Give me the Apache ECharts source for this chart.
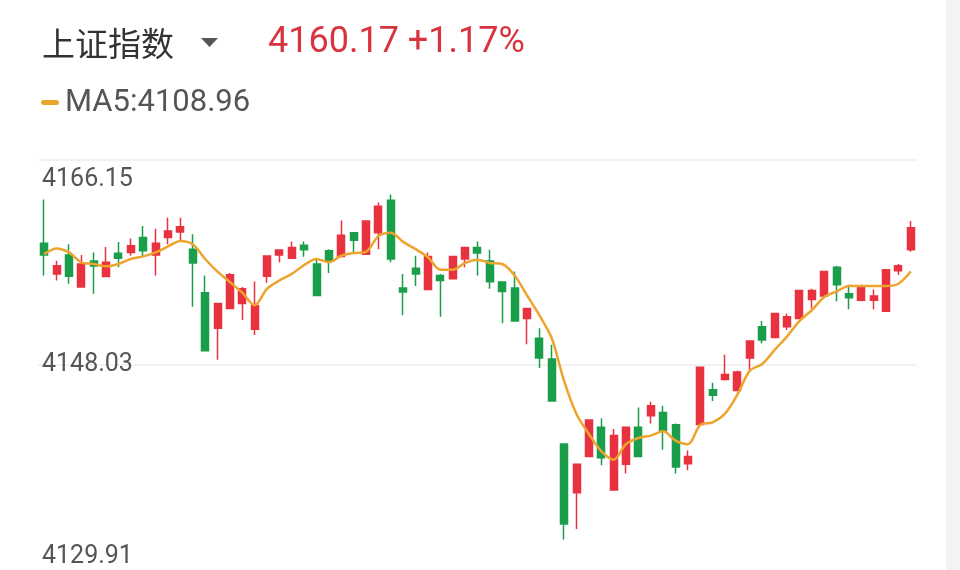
<!DOCTYPE html>
<html>
<head>
<meta charset="utf-8">
<script src="https://cdn.jsdelivr.net/npm/echarts@6/dist/echarts.min.js"></script>
<style>
html,body{margin:0;padding:0;background:#fff;}
#c{width:960px;height:570px;}
</style>
</head>
<body>
<div id="c"></div>
<script>
var categories = ['1','2','3','4','5','6','7','8','9','10','11','12','13','14','15','16','17','18','19','20','21','22','23','24','25','26','27','28','29','30','31','32','33','34','35','36','37','38','39','40','41','42','43','44','45','46','47','48','49','50','51','52','53','54','55','56','57','58','59','60','61','62','63','64','65','66','67','68','69','70','71'];
var openVals = [4158.80,4156.08,4157.75,4154.92,4157.22,4155.85,4157.90,4157.98,4159.30,4157.75,4159.30,4159.79,4158.27,4154.42,4151.27,4153.02,4153.46,4151.18,4155.88,4157.75,4157.46,4158.62,4156.96,4158.12,4157.63,4159.73,4157.83,4159.73,4162.59,4154.83,4156.58,4154.71,4155.94,4155.65,4157.40,4158.42,4157.22,4155.36,4154.83,4152.15,4150.39,4148.56,4141.05,4136.74,4139.95,4142.52,4136.98,4139.25,4142.52,4143.54,4143.83,4142.75,4139.31,4142.78,4145.84,4146.74,4145.78,4148.64,4151.42,4150.46,4151.42,4152.15,4153.83,4154.13,4156.67,4154.33,4153.75,4153.75,4152.78,4156.37,4158.21];
var closeVals = [4157.75,4156.81,4155.88,4156.96,4156.78,4157.11,4157.46,4158.56,4158.12,4158.80,4159.87,4160.26,4157.05,4149.28,4153.46,4156.00,4154.77,4153.28,4157.66,4158.19,4158.42,4158.21,4154.18,4157.25,4159.50,4159.06,4160.75,4162.06,4157.40,4154.48,4156.08,4157.63,4155.50,4157.63,4158.42,4157.92,4155.38,4154.53,4151.91,4153.02,4148.64,4144.85,4133.97,4139.25,4143.16,4139.83,4141.79,4142.52,4139.95,4144.42,4142.23,4139.02,4139.95,4147.83,4145.36,4147.18,4147.42,4150.16,4150.25,4152.58,4152.29,4154.62,4154.62,4156.29,4155.12,4153.98,4155.01,4154.13,4156.46,4156.81,4160.17];
var lowVals = [4155.94,4155.50,4155.21,4154.92,4154.33,4155.85,4156.67,4157.69,4157.55,4155.94,4158.71,4159.00,4153.17,4149.23,4148.50,4152.96,4152.00,4150.68,4155.30,4157.11,4157.46,4157.60,4154.18,4156.17,4157.63,4157.98,4157.83,4158.27,4157.11,4152.43,4155.01,4154.71,4152.29,4155.65,4156.67,4155.94,4154.77,4151.71,4151.91,4149.87,4147.77,4144.79,4132.60,4133.53,4139.95,4139.16,4136.98,4138.43,4139.95,4142.87,4140.53,4138.43,4138.73,4142.78,4144.84,4146.66,4145.78,4147.62,4149.96,4150.46,4151.12,4152.15,4153.02,4153.90,4153.66,4152.96,4153.66,4152.96,4152.78,4155.99,4158.04];
var highVals = [4162.65,4157.25,4158.71,4157.75,4157.98,4158.47,4158.91,4159.21,4160.31,4160.08,4161.05,4161.05,4159.59,4155.94,4153.46,4156.17,4154.92,4155.41,4157.66,4158.27,4158.95,4158.95,4157.46,4158.27,4160.81,4159.73,4160.75,4162.41,4163.09,4156.08,4157.69,4157.98,4156.08,4157.63,4158.42,4158.95,4158.21,4155.36,4156.29,4153.02,4151.27,4149.81,4141.05,4139.25,4143.16,4143.33,4142.37,4142.52,4144.27,4144.79,4144.42,4142.87,4140.48,4147.83,4146.46,4148.93,4147.53,4150.16,4151.91,4152.58,4152.58,4154.62,4154.77,4156.37,4156.81,4155.12,4155.12,4154.71,4156.46,4156.96,4160.75];
var ma5Vals = [4157.83,4158.33,4157.98,4157.11,4156.96,4156.76,4156.96,4157.40,4157.63,4157.98,4158.51,4159.00,4158.71,4157.40,4156.29,4155.36,4154.42,4153.31,4154.77,4155.50,4156.08,4156.87,4157.40,4157.11,4157.69,4157.92,4158.04,4159.44,4159.73,4158.91,4158.27,4157.55,4156.46,4156.46,4157.05,4157.34,4157.05,4156.96,4155.94,4154.18,4152.43,4150.39,4146.60,4143.68,4141.93,4140.42,4139.66,4141.05,4141.58,4141.79,4142.17,4141.35,4141.03,4142.75,4142.96,4143.74,4145.43,4147.53,4148.12,4149.37,4150.54,4151.91,4152.87,4154.04,4154.53,4155.01,4155.01,4155.01,4155.01,4155.21,4156.29];
var yTickLabels = ['4129.91','4148.03','4166.15'];
var titleText = '上证指数';
var priceText = '4160.17 +1.17%';
var maLegendText = 'MA5:4108.96';

var candleData = [];
for (var i = 0; i < categories.length; i++) {
  candleData.push([openVals[i], closeVals[i], lowVals[i], highVals[i]]);
}
var yMin = parseFloat(yTickLabels[0]);
var yMax = parseFloat(yTickLabels[2]);
var yStep = parseFloat(yTickLabels[1]) - yMin;

var chart = echarts.init(document.getElementById('c'), null, {renderer: 'canvas'});
chart.setOption({
  animation: false,
  backgroundColor: '#ffffff',
  grid: {left: 38, width: 879, top: 160, height: 414},
  xAxis: {
    type: 'category',
    data: categories,
    boundaryGap: true,
    axisLine: {show: false},
    axisTick: {show: false},
    axisLabel: {show: false},
    splitLine: {show: false}
  },
  yAxis: {
    type: 'value',
    min: yMin,
    max: yMax,
    interval: yStep,
    position: 'left',
    axisLine: {show: false},
    axisTick: {show: false},
    splitLine: {show: true, lineStyle: {color: ['rgba(0,0,0,0)', '#eeeeee', '#eeeeee'], width: 1.5}},
    axisLabel: {
      inside: true,
      margin: 4,
      color: '#555555',
      fontSize: 25,
      fontFamily: 'Roboto',
      formatter: function (v) {
        var s = v.toFixed(2);
        if (s === yTickLabels[2]) return '{t|' + s + '}';
        if (s === yTickLabels[0]) return '{b|' + s + '}';
        return '{m|' + s + '}';
      },
      rich: {
        t: {fontSize: 25, fontFamily: 'Roboto', color: '#555555', padding: [40, 0, 0, 0]},
        m: {fontSize: 25, fontFamily: 'Roboto', color: '#555555', padding: [0, 0, 0, 0]},
        b: {fontSize: 25, fontFamily: 'Roboto', color: '#555555', padding: [0, 0, 26, 0]}
      }
    }
  },
  series: [
    {
      type: 'candlestick',
      data: candleData,
      barWidth: 7.5,
      itemStyle: {
        color: '#e8323f',
        color0: '#1b9e4b',
        borderColor: '#e8323f',
        borderColor0: '#1b9e4b',
        borderWidth: 1.5
      }
    },
    {
      type: 'line',
      data: ma5Vals,
      smooth: 0.3,
      symbol: 'none',
      lineStyle: {color: '#eea42c', width: 2.5}
    }
  ],
  graphic: [
    {type: 'rect', shape: {x: 946, y: 0, width: 14, height: 570}, style: {fill: '#f4f4f4'}, silent: true},
    {type: 'text', x: 42, y: 43, style: {text: titleText, font: '33px "Noto Sans CJK SC"', fill: '#333333', textVerticalAlign: 'middle'}},
    {type: 'polygon', shape: {points: [[201, 38], [218, 38], [209.5, 47]]}, style: {fill: '#555555'}},
    {type: 'text', x: 268, y: 43, style: {text: priceText, font: '36px Roboto', fill: '#d8343f', textVerticalAlign: 'middle'}},
    {type: 'rect', shape: {x: 41, y: 100, width: 18, height: 5, r: 2.5}, style: {fill: '#e8a530'}},
    {type: 'text', x: 65, y: 103, style: {text: maLegendText, font: '31px Roboto', fill: '#555555', textVerticalAlign: 'middle'}}
  ]
});
</script>
</body>
</html>
